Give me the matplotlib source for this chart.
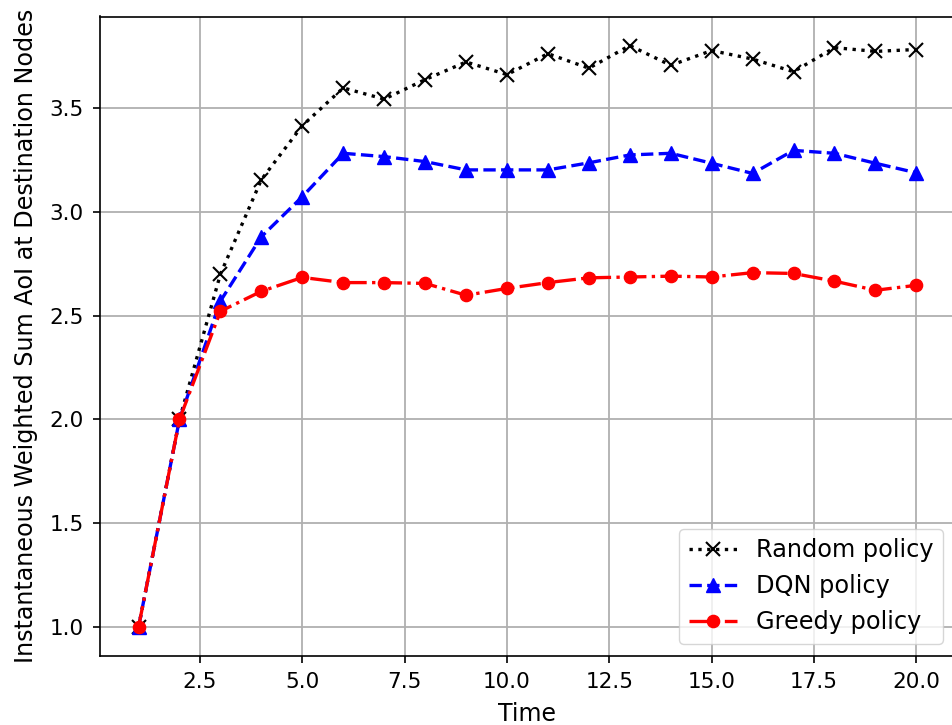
import matplotlib
matplotlib.use("Agg")
import matplotlib.pyplot as plt

time_steps = list(range(1, 21))
random_policy = [1.0, 2.0, 2.70, 3.155, 3.415, 3.597, 3.543, 3.637, 3.722, 3.661,
                 3.762, 3.692, 3.801, 3.706, 3.777, 3.736, 3.675, 3.791, 3.773, 3.782]
dqn_policy = [1.0, 2.0, 2.57, 2.88, 3.073, 3.282, 3.266, 3.242, 3.202, 3.202,
              3.202, 3.236, 3.274, 3.282, 3.234, 3.185, 3.296, 3.282, 3.234, 3.188]
greedy_policy = [1.0, 2.0, 2.521, 2.617, 2.684, 2.659, 2.659, 2.655, 2.598, 2.631,
                 2.659, 2.682, 2.686, 2.690, 2.686, 2.707, 2.703, 2.666, 2.622, 2.646]

fig = plt.figure(figsize=(9.52, 7.25), dpi=100)
ax = fig.add_axes([0.1047, 1 - 656 / 725, 1.0034 - 0.1047, (656 - 16.5) / 725])

lw = 2.4
ax.plot(time_steps, random_policy, color="black", linestyle=":", marker="x",
        linewidth=lw, markersize=9.5, markeredgewidth=1.5, label="Random policy")
ax.plot(time_steps, dqn_policy, color="blue", linestyle="--", marker="^",
        linewidth=lw, markersize=9.5, label="DQN policy")
ax.plot(time_steps, greedy_policy, color="red", linestyle="-.", marker="o",
        linewidth=lw, markersize=8.8, label="Greedy policy")

ax.grid(True, color="#b0b0b0", linewidth=1.3)
ax.set_axisbelow(True)
for spine in ax.spines.values():
    spine.set_linewidth(1.2)
ax.tick_params(labelsize=15.5, width=1.2, length=5.0, pad=6.5)
ax.set_xlabel("Time", fontsize=17, labelpad=7)
ax.set_ylabel("Instantaneous Weighted Sum AoI at Destination Nodes", fontsize=17.2, labelpad=8)
ax.legend(loc="lower right", fontsize=17.3, handlelength=2.0)

fig.savefig("out.png", dpi=100)
